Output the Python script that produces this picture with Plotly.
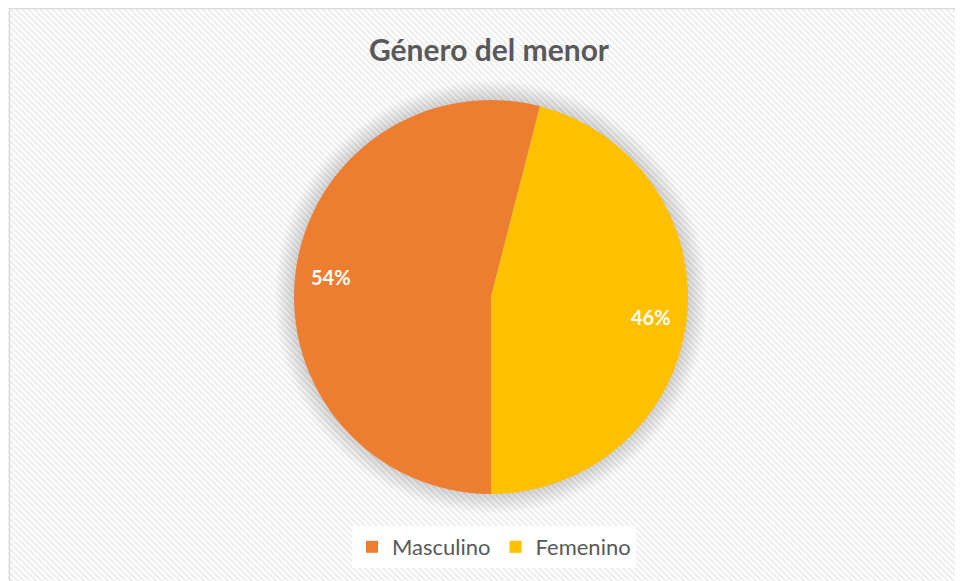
import math
import plotly.graph_objects as go

# ---- data ----
categories = ["Masculino", "Femenino"]
values = [54, 46]
colors = ["#ED7D31", "#FFC000"]
title_text = "Género del menor"

# ---- layout constants (pixels, figure coordinates) ----
W, H = 963, 581
OFF = 8  # page body margin offset
CX, CY, R = 491 - OFF, 297 - OFF, 197
START = 180  # degrees clockwise from 12 o'clock
LABEL_R = 0.82

fig = go.Figure()

# hidden pixel-space axes for decorations
fig.add_trace(go.Scatter(x=[None], y=[None], xaxis="x", yaxis="y", showlegend=False, hoverinfo="skip"))

fig.add_trace(go.Pie(
    labels=categories, values=values, sort=False, direction="clockwise", rotation=START,
    marker=dict(colors=colors, line=dict(width=0)),
    textinfo="none", hoverinfo="label+percent",
    domain=dict(x=[(CX - R) / W, (CX + R) / W], y=[1 - (CY + R) / H, 1 - (CY - R) / H]),
))

shapes = []
# hatch background
path = []
step = 6
for c in range(-H, W + H, step):
    path.append(f"M{c},0L{c + H},{H}")
shapes.append(dict(type="path", path="".join(path), xref="x", yref="y", layer="below",
                   line=dict(color="#eeeeee", width=2)))
# soft glow around the pie
for k in range(20, 0, -1):
    shapes.append(dict(type="circle", xref="x", yref="y", layer="below",
                       x0=CX - R - k, x1=CX + R + k, y0=CY - R - k, y1=CY + R + k,
                       fillcolor="rgba(0,0,0,0.009)", line=dict(width=0)))
# chart frame
shapes.append(dict(type="rect", xref="x", yref="y", layer="above",
                   x0=1.5, y0=0.5, x1=W + 5, y1=H + 5, line=dict(color="#d9d9d9", width=1.5),
                   fillcolor="rgba(0,0,0,0)"))

# percentage labels computed from values
annotations = []
total = sum(values)
cum = 0
for v in values:
    mid = START + (cum + v / 2) / total * 360
    cum += v
    a = math.radians(mid)
    annotations.append(dict(
        x=CX + LABEL_R * R * math.sin(a), y=CY - LABEL_R * R * math.cos(a), xref="x", yref="y",
        text=f"<b>{round(v / total * 100)}%</b>", showarrow=False,
        font=dict(family="Lato", size=20, color="white"), xanchor="center", yanchor="middle"))

fig.update_layout(
    width=W, height=H, margin=dict(l=0, r=0, t=0, b=0),
    paper_bgcolor="white", plot_bgcolor="white",
    xaxis=dict(range=[0, W], visible=False, domain=[0, 1], fixedrange=True),
    yaxis=dict(range=[H, 0], visible=False, domain=[0, 1], fixedrange=True),
    shapes=shapes, annotations=annotations,
    title=dict(text=f"<b>{title_text}</b>", x=(489 - OFF) / W, xanchor="center",
               y=1 - (50 - OFF) / H, yanchor="middle",
               font=dict(family="Lato", size=30, color="#595959")),
    legend=dict(orientation="h", x=(494 - OFF) / W, xanchor="center", y=1 - (547 - OFF) / H,
                yanchor="middle", bgcolor="rgba(255,255,255,0.85)",
                font=dict(family="Lato", size=22, color="#595959"),
                itemwidth=30, traceorder="normal"),
    showlegend=True,
)

fig.write_html("out.html")
